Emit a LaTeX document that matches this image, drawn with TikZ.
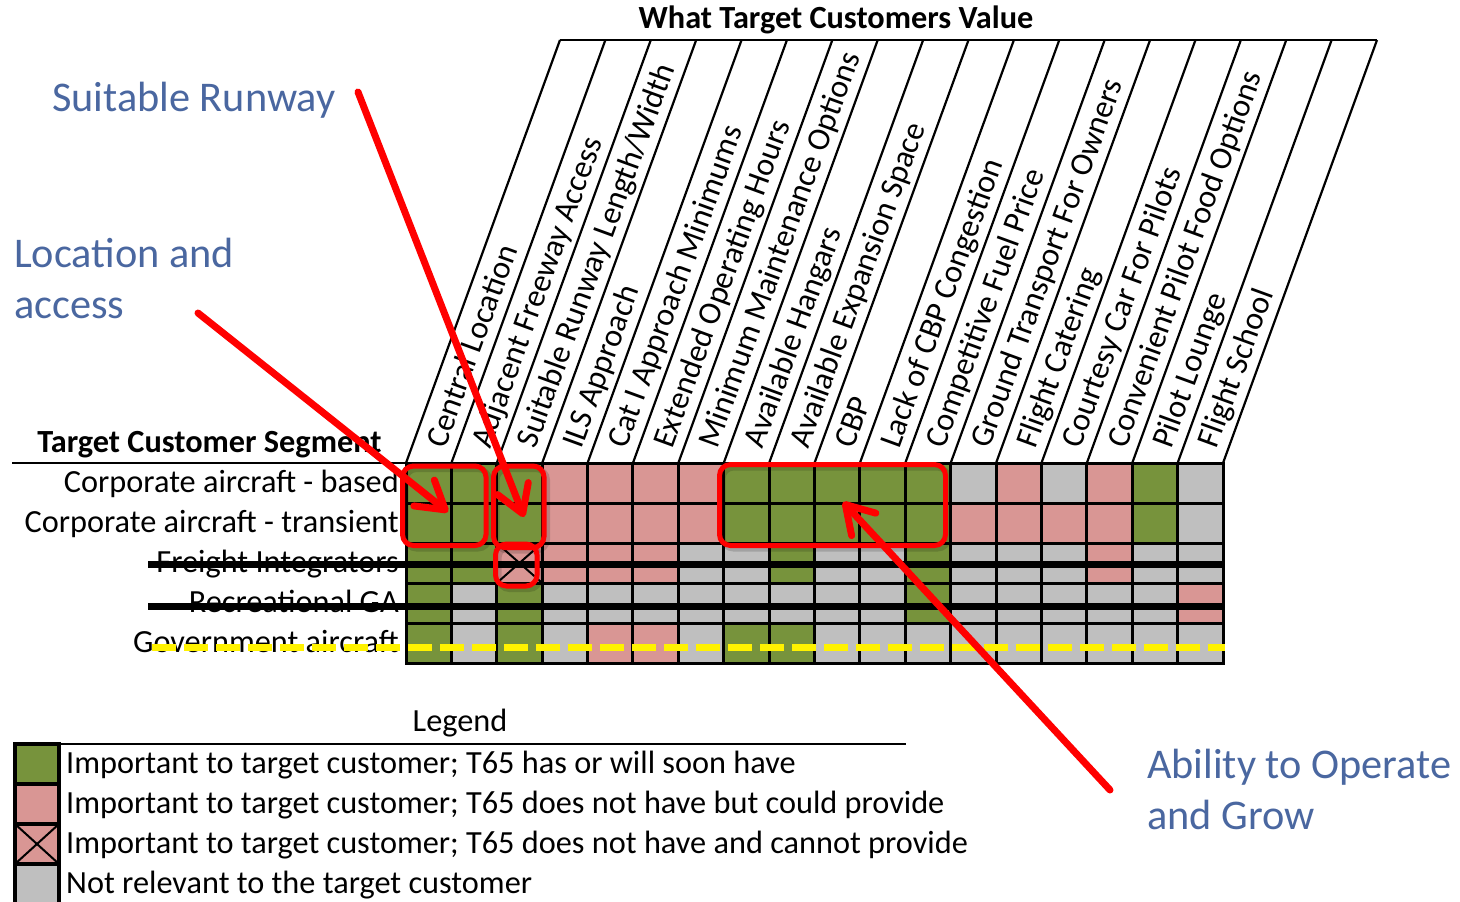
\documentclass[tikz,border=0pt]{standalone}
\usepackage{fontspec}
\setmainfont{Carlito}
\usetikzlibrary{arrows.meta}

\definecolor{hasgreen}{RGB}{119,147,60}
\definecolor{canpink}{RGB}{217,150,148}
\definecolor{nagrey}{RGB}{191,191,191}
\definecolor{noteblue}{RGB}{74,103,160}
\colorlet{G}{hasgreen}
\colorlet{P}{canpink}
\colorlet{X}{canpink}
\colorlet{N}{nagrey}

\newcommand{\cw}{45.39}
\newcommand{\rh}{40}
\newcommand{\labfont}{\fontsize{32.3}{38}\selectfont}

\tikzset{
  gridline/.style={line width=3pt, line cap=rect},
  headline/.style={line width=2.2pt},
  collabel/.style={rotate=70, anchor=base west, inner sep=0pt, font=\labfont},
  rowlabel/.style={anchor=base east, inner sep=0pt, font=\labfont},
  legendtext/.style={anchor=base west, inner sep=0pt, font=\labfont},
  legendbox/.style={line width=3.5pt},
  callout/.style={anchor=west, align=left, inner sep=0pt, text=noteblue, font=\fontsize{42.3}{51}\selectfont},
  hilite/.style={draw=red, line width=5pt, rounded corners=11pt},
  hiliteshade/.style={draw=black, opacity=0.15, line width=6pt, rounded corners=11pt, shift={(3,3)}},
  pointer/.style={red, line width=7pt, line cap=round, -{Straight Barb[length=27pt, width=33pt, round]}},
  strike/.style={line width=7pt},
  govdash/.style={yellow, line width=7pt, dash pattern=on 24pt off 8pt},
}

\begin{document}
\begin{tikzpicture}[x=1pt, y=-1pt]
\useasboundingbox (0,0) rectangle (1460,902);
% header
\node[font=\bfseries\labfont] (valuetitle) at (836,20) {What Target Customers Value};
\draw[headline] (560,40) -- (1377,40);
\foreach \k in {0,...,18}
  \draw[headline] ({406+\cw*\k},463) -- ({560+\cw*\k},40);
\foreach \lab [count=\i] in {Central Location, Adjacent Freeway Access, {Suitable Runway Length/Width}, ILS Approach, Cat I Approach Minimums, Extended Operating Hours, Minimum Maintenance Options, Available Hangars, Available Expansion Space, CBP, Lack of CBP Congestion, Competitive Fuel Price, Ground Transport For Owners, Flight Catering, Courtesy Car For Pilots, Convenient Pilot Food Options, Pilot Lounge, Flight School}
  \node[collabel] (col\i) at ({399.7+\cw*\i},450) {\lab};
%
% cells
\foreach \row [count=\r] in {{G,G,G,P,P,P,P,G,G,G,G,G,N,P,N,P,G,N},
                             {G,G,G,P,P,P,P,G,G,G,G,G,P,P,P,P,G,N},
                             {G,G,X,P,P,P,N,N,G,N,N,G,N,N,N,P,N,N},
                             {G,N,G,N,N,N,N,N,N,N,N,G,N,N,N,N,N,P},
                             {G,N,G,N,P,P,N,G,G,N,N,N,N,N,N,N,N,N}}
  \foreach \cellc [count=\k] in \row
    \fill[\cellc] ({406+\cw*(\k-1)},{463+\rh*(\r-1)}) rectangle ++(\cw,\rh);
\draw[line width=2pt] ({406+2*\cw},543) -- ({406+3*\cw},583)
                      ({406+2*\cw},583) -- ({406+3*\cw},543);
\foreach \k in {0,...,18}
  \draw[gridline] ({406+\cw*\k},463) -- ({406+\cw*\k},663);
\foreach \r in {0,...,5}
  \draw[gridline] (406,{463+\rh*\r}) -- (1223,{463+\rh*\r});
%
% segments
\node[font=\bfseries\labfont, anchor=base] (segtitle) at (209.5,452) {Target Customer Segment};
\draw[headline] (12,463) -- (406,463);
\foreach \lab [count=\r] in {Corporate aircraft - based, Corporate aircraft - transient, Freight Integrators, Recreational GA, Government aircraft}
  \node[rowlabel] (seg\r) at (399,{492+\rh*(\r-1)}) {\lab};
\draw[strike] (148,564) -- (1223,564);
\draw[strike] (148,606) -- (1223,606);
\draw[govdash] (152,647) -- (1225,647);
%
% legend
\node[font=\labfont] (legendtitle) at (460,723) {Legend};
\draw[headline] (14,744) -- (906,744);
\foreach \cellc/\txt [count=\i] in {G/Important to target customer; T65 has or will soon have,
    P/Important to target customer; T65 does not have but could provide,
    X/Important to target customer; T65 does not have and cannot provide,
    N/Not relevant to the target customer}
{
  \draw[legendbox, fill=\cellc] (15,{744+\rh*(\i-1)}) rectangle ++(44,\rh);
  \node[legendtext] (leg\i) at (66,{773+\rh*(\i-1)}) {\txt};
}
\draw[line width=2pt] (15,824) -- (59,864) (15,864) -- (59,824);
%
% callouts
\node[callout] (rwynote) at (52,100) {Suitable Runway};
\node[callout] (locnote) at (14,278) {Location and\\access};
\node[callout] (opsnote) at (1147,789) {Ability to Operate\\and Grow};
\draw[hiliteshade] (402.5,466) rectangle (486,545.5);
\draw[hiliteshade] (493.5,466) rectangle (544,547.5);
\draw[hiliteshade] (495.5,544) rectangle (537,586);
\draw[hiliteshade] (719.5,464.5) rectangle (945.5,545.5);
\draw[hilite] (402.5,466) rectangle (486,545.5);
\draw[hilite] (493.5,466) rectangle (544,547.5);
\draw[hilite] (495.5,544) rectangle (537,586);
\draw[hilite] (719.5,464.5) rectangle (945.5,545.5);
\coordinate (locTail) at (198,313);
\coordinate (locTip) at (448,512);
\coordinate (rwyTail) at (358,92);
\coordinate (rwyTip) at (524,517);
\coordinate (opsTail) at (1110,790);
\coordinate (opsTip) at (843,502);
\draw[pointer] (locTail) -- (locTip);
\draw[pointer] (rwyTail) -- (rwyTip);
\draw[pointer] (opsTail) -- (opsTip);
\end{tikzpicture}
\end{document}
